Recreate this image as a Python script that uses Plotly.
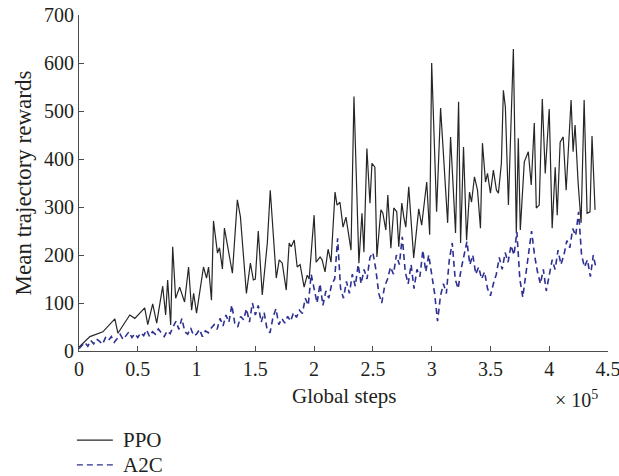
import numpy as np
import plotly.graph_objects as go

# PPO mean trajectory reward (global steps in units of 1e5)
ppo_steps_e5 = [
    0.000, 0.093, 0.203, 0.305, 0.331, 0.432, 0.475, 0.559, 0.585, 0.627,
    0.661, 0.712, 0.737, 0.754, 0.780, 0.797, 0.822, 0.856, 0.898, 0.932,
    0.958, 0.975, 1.000, 1.025, 1.059, 1.085, 1.102, 1.127, 1.144, 1.178,
    1.195, 1.220, 1.237, 1.305, 1.347, 1.373, 1.424, 1.458, 1.483, 1.500,
    1.525, 1.559, 1.602, 1.627, 1.678, 1.703, 1.729, 1.763, 1.788, 1.805,
    1.831, 1.856, 1.881, 1.915, 1.941, 1.958, 2.000, 2.017, 2.051, 2.068,
    2.093, 2.119, 2.144, 2.178, 2.195, 2.220, 2.246, 2.271, 2.314, 2.339,
    2.381, 2.407, 2.424, 2.449, 2.475, 2.492, 2.517, 2.534, 2.568, 2.585,
    2.610, 2.627, 2.653, 2.678, 2.703, 2.720, 2.746, 2.763, 2.780, 2.805,
    2.847, 2.890, 2.915, 2.958, 2.983, 3.000, 3.042, 3.076, 3.102, 3.136,
    3.161, 3.203, 3.229, 3.246, 3.271, 3.297, 3.322, 3.339, 3.364, 3.390,
    3.415, 3.432, 3.458, 3.475, 3.500, 3.525, 3.551, 3.568, 3.593, 3.610,
    3.627, 3.653, 3.695, 3.720, 3.737, 3.754, 3.788, 3.822, 3.847, 3.873,
    3.890, 3.915, 3.941, 3.966, 4.000, 4.025, 4.051, 4.068, 4.093, 4.119,
    4.144, 4.186, 4.203, 4.220, 4.246, 4.271, 4.297, 4.322, 4.347, 4.364,
    4.390,
]
ppo_reward = [
    8, 30, 40, 67, 37, 75, 68, 90, 55, 98,
    58, 135, 75, 148, 54, 217, 110, 133, 102, 175,
    85, 120, 79, 123, 175, 152, 175, 106, 271, 204,
    215, 171, 256, 162, 315, 280, 120, 183, 148, 150,
    250, 117, 225, 335, 152, 190, 183, 127, 225, 217,
    231, 175, 180, 133, 158, 150, 283, 185, 196, 190,
    165, 212, 185, 331, 304, 310, 258, 279, 210, 530,
    183, 287, 206, 422, 308, 391, 383, 196, 294, 287,
    252, 325, 214, 298, 290, 217, 308, 279, 258, 342,
    194, 296, 262, 352, 242, 600, 290, 506, 412, 267,
    446, 246, 519, 225, 425, 231, 331, 310, 363, 335,
    256, 433, 352, 370, 329, 377, 335, 329, 391, 543,
    508, 304, 629, 246, 443, 252, 394, 415, 346, 475,
    298, 304, 525, 370, 504, 256, 383, 283, 435, 446,
    335, 523, 415, 471, 350, 267, 523, 287, 290, 448,
    294,
]

# A2C mean trajectory reward, logged every 0.025e5 global steps
a2c_interval_e5 = 0.025
a2c_reward = [
    5, 12, 18, 10, 22, 15, 25, 20, 14, 28, 22, 30, 18, 26, 35, 24, 32, 40, 28, 36,
    28, 38, 32, 44, 30, 40, 35, 46, 38, 30, 42, 36, 50, 62, 45, 68, 40, 35, 48, 32,
    35, 45, 30, 42, 38, 48, 55, 45, 68, 52, 75, 60, 96, 58, 50, 72, 65, 88, 60, 100,
    75, 95, 60, 80, 45, 38, 70, 88, 55, 68, 58, 72, 62, 80, 70, 85, 78, 110, 95, 160,
    130, 100, 140, 95, 125, 110, 140, 150, 235, 130, 110, 145, 120, 160, 135, 180, 140, 170, 150, 195,
    205, 170, 120, 100, 135, 150, 175, 160, 200, 180, 238, 165, 140, 180, 130, 170, 155, 210, 165, 200,
    160, 120, 62, 115, 140, 120, 190, 225, 150, 130, 170, 200, 228, 180, 200, 160, 175, 150, 165, 130,
    115, 140, 160, 195, 170, 205, 185, 220, 200, 248, 150, 112, 160, 210, 250, 200, 165, 140, 170, 125,
    160, 190, 170, 210, 180, 200, 230, 215, 255, 240, 290, 200, 175, 190, 155, 200, 170,
]
a2c_steps_e5 = np.arange(len(a2c_reward)) * a2c_interval_e5

x_ticks = [0, 0.5, 1, 1.5, 2, 2.5, 3, 3.5, 4, 4.5]
x_tick_labels = ["0", "0.5", "1", "1.5", "2", "2.5", "3", "3.5", "4", "4.5"]
y_ticks = [0, 100, 200, 300, 400, 500, 600, 700]

series_names = ["PPO", "A2C"]
series_colors = ["#262626", "#2e3192"]
series_dash = ["solid", "6px,4px"]

FONT = "Liberation Serif"
TEXT = "#231f20"
AXIS = "#4d4d4d"

fig = go.Figure()
fig.add_trace(go.Scatter(
    x=ppo_steps_e5, y=ppo_reward, mode="lines", name=series_names[0],
    line=dict(color=series_colors[0], width=1.2, dash=series_dash[0]),
))
fig.add_trace(go.Scatter(
    x=a2c_steps_e5, y=a2c_reward, mode="lines", name=series_names[1],
    line=dict(color=series_colors[1], width=1.6, dash=series_dash[1]),
))

axis_common = dict(
    showline=True, linecolor=AXIS, linewidth=1,
    ticks="inside", ticklen=5, tickcolor=AXIS, tickwidth=1,
    showgrid=False, zeroline=False, automargin=False,
    ticklabeloverflow="allow",
    tickfont=dict(family=FONT, size=20, color=TEXT),
)

# Key below the plot area: sample line plus label for each series
legend_shapes = []
legend_labels = []
for i, (name, color, dash) in enumerate(zip(series_names, series_colors, series_dash)):
    ky = -0.265 - i * 0.074
    legend_shapes.append(dict(
        type="line", xref="paper", yref="paper",
        x0=-0.004, x1=0.064, y0=ky, y1=ky,
        line=dict(color=color, width=1.3, dash=dash),
    ))
    legend_labels.append(dict(
        text=name, xref="paper", yref="paper", x=0.079, y=ky,
        xanchor="left", yanchor="middle", showarrow=False,
        font=dict(family=FONT, size=21, color=TEXT),
    ))

fig.update_layout(
    width=619, height=476,
    margin=dict(l=79, r=11, t=15, b=125),
    paper_bgcolor="white", plot_bgcolor="white",
    font=dict(family=FONT, size=21, color=TEXT),
    showlegend=False,
    xaxis=dict(
        range=[0, 4.5], tickvals=x_ticks, ticktext=x_tick_labels,
        **axis_common,
    ),
    yaxis=dict(
        range=[0, 700], tickvals=y_ticks,
        title=dict(text="Mean trajectory rewards", font=dict(family=FONT, size=23, color=TEXT), standoff=5),
        **axis_common,
    ),
    shapes=legend_shapes,
    annotations=[
        dict(
            text="Global steps", xref="paper", yref="paper",
            x=0.5, y=-0.134, xanchor="center", yanchor="middle",
            showarrow=False, font=dict(family=FONT, size=21, color=TEXT),
        ),
        dict(
            text="× 10<sup>5</sup>", xref="paper", yref="paper",
            x=0.985, y=-0.143, xanchor="right", yanchor="middle",
            showarrow=False, font=dict(family=FONT, size=20, color=TEXT),
        ),
    ] + legend_labels,
)

fig.write_html("out.html")
